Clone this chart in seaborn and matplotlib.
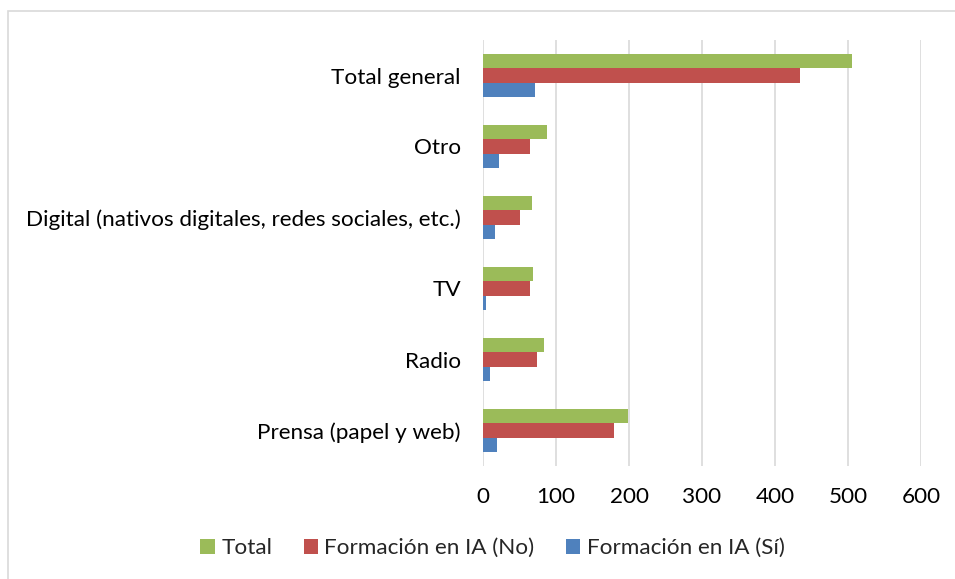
import matplotlib
matplotlib.use("Agg")
import matplotlib.pyplot as plt
from matplotlib.patches import Rectangle
import seaborn as sns
import pandas as pd

categories = ["Total general", "Otro", "Digital (nativos digitales, redes sociales, etc.)",
              "TV", "Radio", "Prensa (papel y web)"]
series_names = ["Total", "Formación en IA (No)", "Formación en IA (Sí)"]
total_vals = [505, 87, 67, 69, 83, 199]
no_vals = [434, 65, 50, 65, 74, 180]
si_vals = [71, 22, 17, 4, 9, 19]
x_ticks = [0, 100, 200, 300, 400, 500, 600]
colors = ["#9BBB59", "#C0504D", "#4F81BD"]

rows = []
for name, vals in zip(series_names, [total_vals, no_vals, si_vals]):
    for c, v in zip(categories, vals):
        rows.append({"cat": c, "serie": name, "val": v})
df = pd.DataFrame(rows)

sns.set_theme(style="white")
plt.rcParams['font.family'] = ['Lato', 'DejaVu Sans']

FS = 16.2
W, H = 955, 579
fig = plt.figure(figsize=(W / 100, H / 100), dpi=100)
ax = fig.add_axes([483 / W, 1 - 466 / H, (921 - 483) / W, (466 - 40) / H])

sns.barplot(data=df, y="cat", x="val", hue="serie", order=categories,
            hue_order=series_names, palette=colors, width=0.61, gap=0,
            orient="h", ax=ax, saturation=1, legend=True,
            edgecolor="none", linewidth=0)

ax.set_xlim(0, 600)
ax.set_xticks(x_ticks)
ax.set_xticklabels([str(t) for t in x_ticks], fontsize=FS, color="#000000")
ax.tick_params(axis="y", labelsize=FS, labelcolor="#000000", length=0, pad=16)
ax.tick_params(axis="x", length=0, pad=15)
ax.set_xlabel("")
ax.set_ylabel("")
for s in ax.spines.values():
    s.set_visible(False)
ax.set_axisbelow(True)
ax.grid(axis="x", color="#D9D9D9", linewidth=1.2)
ax.grid(axis="y", visible=False)

handles, labels = ax.get_legend_handles_labels()
ax.legend_.remove()
fig.legend(handles, labels, loc="center", bbox_to_anchor=(492.5 / W, 1 - 548 / H),
           ncol=3, frameon=False, fontsize=FS, handlelength=0.64, handleheight=0.64,
           handletextpad=0.28, columnspacing=1.4)

fig.patches.append(Rectangle((8 / W, -0.02), 1 - 8 / W + 0.02, 1 - 11 / H + 0.02,
                             transform=fig.transFigure, fill=False,
                             edgecolor="#D9D9D9", linewidth=1.2))

fig.savefig("out.png", dpi=100, facecolor="white")
